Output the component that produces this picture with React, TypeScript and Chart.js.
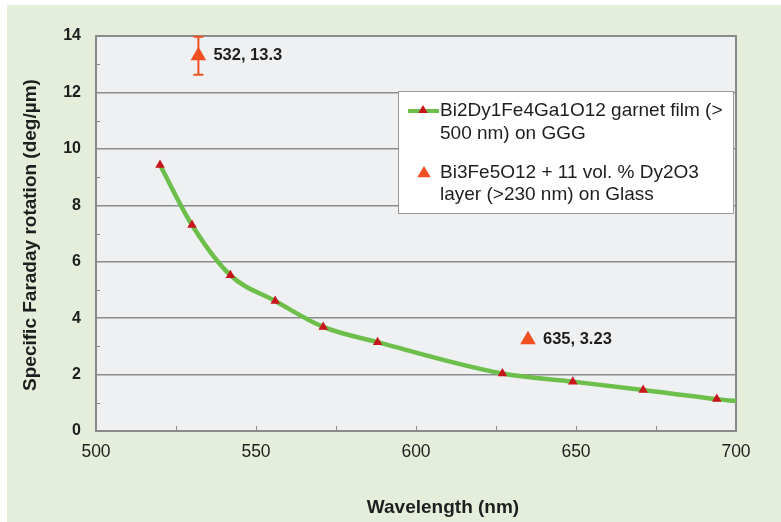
import React, { useEffect, useRef } from "react";
import { Chart, registerables } from "chart.js";

Chart.register(...registerables);

// ---------- data ----------
const garnetWavelength = [520, 530, 542, 556, 571, 588, 627, 649, 671, 694, 700];
const garnetRotation = [9.43, 7.3, 5.52, 4.61, 3.69, 3.15, 2.04, 1.75, 1.45, 1.13, 1.06];
const garnetMarkerShown = [true, true, true, true, true, true, true, true, true, true, false];

const bfoWavelength = [532, 635];
const bfoRotation = [13.3, 3.23];
const bfoError = [0.67, 0];
const bfoLabels = ["532, 13.3", "635, 3.23"];

const xTickValues = [500, 550, 600, 650, 700];
const yTickValues = [0, 2, 4, 6, 8, 10, 12, 14];

const garnetLegendLines = ["Bi2Dy1Fe4Ga1O12 garnet film (>", "500 nm) on GGG"];
const bfoLegendLines = ["Bi3Fe5O12 + 11 vol. % Dy2O3", "layer (>230 nm) on Glass"];

const xTitle = "Wavelength (nm)";
const yTitle = "Specific Faraday rotation (deg/\u00b5m)";

// ---------- styles ----------
const FONT = "'Liberation Sans', Arial, sans-serif";
const GREEN_BG = "#e5eedb";
const PLOT_BG = "#eef0f2";
const GRID = "#8c8c8c";
const LINE_GREEN = "#6cbf4a";
const MARK_RED = "#c8151b";
const BFO_ORANGE = "#f24f22";
const TEXT = "#1e1e1e";

function triangle(ctx: CanvasRenderingContext2D, x: number, y: number, r: number, color: string) {
  ctx.save();
  ctx.fillStyle = color;
  ctx.beginPath();
  ctx.moveTo(x, y - r);
  ctx.lineTo(x + r * 0.95, y + r * 0.6);
  ctx.lineTo(x - r * 0.95, y + r * 0.6);
  ctx.closePath();
  ctx.fill();
  ctx.restore();
}

const decorPlugin = {
  id: "decor",
  beforeDraw(chart: any) {
    const { ctx, chartArea: a, width, height } = chart;
    ctx.save();
    ctx.fillStyle = "#ffffff";
    ctx.fillRect(0, 0, width, height);
    ctx.fillStyle = GREEN_BG;
    ctx.fillRect(7, 5, width - 7, height - 5);
    ctx.fillStyle = PLOT_BG;
    ctx.fillRect(a.left, a.top, a.right - a.left, a.bottom - a.top);
    ctx.restore();
  },
  beforeDatasetsDraw(chart: any) {
    const { ctx, chartArea: a, scales } = chart;
    const xs = scales.x;
    const ys = scales.y;
    ctx.save();
    // frame
    ctx.strokeStyle = "#8a8a8a";
    ctx.lineWidth = 2;
    ctx.strokeRect(a.left, a.top, a.right - a.left, a.bottom - a.top);
    // minor ticks on x (inward)
    ctx.lineWidth = 1;
    ctx.strokeStyle = "#8a8a8a";
    for (let v = 525; v < 700; v += 25) {
      const px = Math.round(xs.getPixelForValue(v)) + 0.5;
      ctx.beginPath();
      ctx.moveTo(px, a.bottom);
      ctx.lineTo(px, a.bottom - 5);
      ctx.stroke();
    }
    // minor ticks on y (inward)
    for (let v = 1; v < 14; v += 2) {
      const py = Math.round(ys.getPixelForValue(v)) + 0.5;
      ctx.beginPath();
      ctx.moveTo(a.left, py);
      ctx.lineTo(a.left + 4, py);
      ctx.stroke();
    }
    // error bars
    ctx.strokeStyle = BFO_ORANGE;
    ctx.lineWidth = 2;
    bfoWavelength.forEach((w, i) => {
      const e = bfoError[i];
      if (!e) return;
      const px = xs.getPixelForValue(w);
      const top = ys.getPixelForValue(Math.min(14, bfoRotation[i] + e));
      const bot = ys.getPixelForValue(bfoRotation[i] - e);
      ctx.beginPath();
      ctx.moveTo(px, top);
      ctx.lineTo(px, bot);
      ctx.moveTo(px - 5, top);
      ctx.lineTo(px + 5, top);
      ctx.moveTo(px - 5, bot);
      ctx.lineTo(px + 5, bot);
      ctx.stroke();
    });
    ctx.restore();
  },
  afterDraw(chart: any) {
    const { ctx, scales } = chart;
    const xs = scales.x;
    const ys = scales.y;
    ctx.save();
    // point labels
    ctx.fillStyle = TEXT;
    ctx.font = `bold 16.5px ${FONT}`;
    ctx.textBaseline = "middle";
    ctx.textAlign = "left";
    bfoWavelength.forEach((w, i) => {
      ctx.fillText(bfoLabels[i], xs.getPixelForValue(w) + 15, ys.getPixelForValue(bfoRotation[i]));
    });
    // axis titles
    ctx.font = `bold 19px ${FONT}`;
    ctx.textAlign = "center";
    ctx.fillText(xTitle, 443, 508);
    ctx.save();
    ctx.translate(31, 235);
    ctx.rotate(-Math.PI / 2);
    ctx.fillText(yTitle, 0, 0);
    ctx.restore();
    // legend
    const lx = 398, ly = 91, lw = 335, lh = 122;
    ctx.fillStyle = "#ffffff";
    ctx.fillRect(lx, ly, lw, lh);
    ctx.strokeStyle = "#9a9a9a";
    ctx.lineWidth = 1;
    ctx.strokeRect(lx + 0.5, ly + 0.5, lw, lh);
    ctx.strokeStyle = LINE_GREEN;
    ctx.lineWidth = 4;
    ctx.beginPath();
    ctx.moveTo(408, 111);
    ctx.lineTo(439, 111);
    ctx.stroke();
    triangle(ctx, 423, 110, 5, MARK_RED);
    triangle(ctx, 424, 173, 7, BFO_ORANGE);
    ctx.fillStyle = TEXT;
    ctx.font = `19px ${FONT}`;
    ctx.textAlign = "left";
    ctx.fillText(garnetLegendLines[0], 440, 111);
    ctx.fillText(garnetLegendLines[1], 440, 134);
    ctx.fillText(bfoLegendLines[0], 440, 173);
    ctx.fillText(bfoLegendLines[1], 440, 195);
    ctx.restore();
  },
};

export default function App() {
  const ref = useRef<HTMLCanvasElement | null>(null);
  useEffect(() => {
    if (!ref.current) return;
    const chart = new Chart(ref.current, {
      type: "scatter",
      data: {
        datasets: [
          {
            label: "garnet",
            data: garnetWavelength.map((w, i) => ({ x: w, y: garnetRotation[i] })),
            showLine: true,
            borderColor: LINE_GREEN,
            borderWidth: 4.5,
            cubicInterpolationMode: "monotone",
            pointStyle: "triangle",
            pointRadius: garnetMarkerShown.map((s) => (s ? 5.5 : 0)),
            pointBackgroundColor: MARK_RED,
            pointBorderColor: MARK_RED,
            pointBorderWidth: 0,
            clip: false,
          } as any,
          {
            label: "bfo",
            data: bfoWavelength.map((w, i) => ({ x: w, y: bfoRotation[i] })),
            showLine: false,
            pointStyle: "triangle",
            pointRadius: 9,
            pointBackgroundColor: BFO_ORANGE,
            pointBorderColor: BFO_ORANGE,
            pointBorderWidth: 0,
            clip: false,
          } as any,
        ],
      },
      options: {
        animation: false,
        responsive: false,
        devicePixelRatio: 1,
        layout: { padding: { left: 0, top: 36, right: 45, bottom: 0 } },
        plugins: { legend: { display: false }, tooltip: { enabled: false } },
        scales: {
          x: {
            type: "linear",
            min: 500,
            max: 700,
            afterFit: (s: any) => {
              s.height = 91;
            },
            afterBuildTicks: (s: any) => {
              s.ticks = xTickValues.map((v) => ({ value: v }));
            },
            grid: { display: false, drawTicks: false },
            border: { display: false },
            ticks: {
              padding: 11,
              color: TEXT,
              font: { family: FONT, size: 17.5 },
            },
          },
          y: {
            type: "linear",
            min: 0,
            max: 14,
            afterFit: (s: any) => {
              s.width = 96;
            },
            afterBuildTicks: (s: any) => {
              s.ticks = yTickValues.map((v) => ({ value: v }));
            },
            grid: { color: GRID, lineWidth: 1.5, drawTicks: false },
            border: { display: false },
            ticks: {
              padding: 15,
              color: TEXT,
              font: { family: FONT, size: 16, weight: "bold" },
            },
          },
        },
      } as any,
      plugins: [decorPlugin],
    });
    return () => chart.destroy();
  }, []);
  return (
    <div style={{ position: "absolute", left: 0, top: 0, width: 781, height: 522 }}>
      <canvas ref={ref} width={781} height={522} style={{ display: "block" }} />
    </div>
  );
}
